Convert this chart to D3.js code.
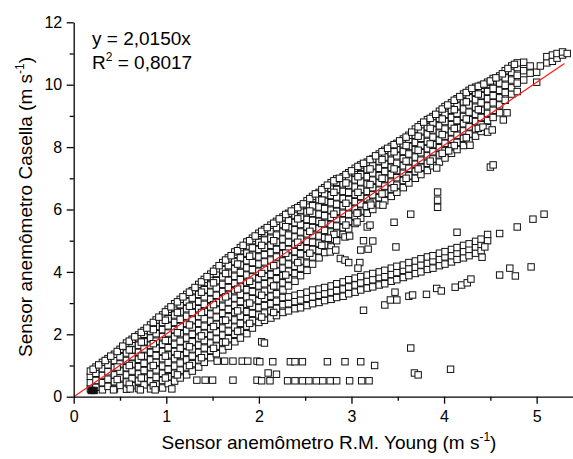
<!DOCTYPE html>
<html><head><meta charset="utf-8">
<script src="https://cdn.jsdelivr.net/npm/d3@7"></script>
<style>
body{margin:0;background:#fff}
svg{display:block}
text{font-family:"Liberation Sans",Arial,Helvetica,sans-serif;fill:#000}
</style></head>
<body><svg id="chart" width="573" height="459"></svg>
<script>
// ---------- data ----------
const xTicks = [0, 1, 2, 3, 4, 5];
const xMinor = [0.5, 1.5, 2.5, 3.5, 4.5];
const yTicks = [0, 2, 4, 6, 8, 10, 12];
const yMinor = [1, 3, 5, 7, 9, 11];
const fitSlope = 2.0150;
const fitRange = [0, 5.3];
const eqLine1 = "y = 2,0150x";
const eqR2 = "0,8017";

// main (upper) cloud: [x, [y values]]
const cloudCols = [
[0.18,[0.25,0.45,0.65,0.82]],
[0.24,[0.3,0.52,0.75,0.95]],
[0.31,[0.22,0.45,0.68,0.9,1.1]],
[0.37,[0.33,0.56,0.8,1.02,1.22]],
[0.44,[0.25,0.48,0.7,0.93,1.16,1.36]],
[0.5,[0.36,0.6,0.82,1.05,1.28,1.52]],
[0.57,[0.24,0.47,0.7,0.93,1.16,1.4,1.62,1.72]],
[0.63,[0.35,0.58,0.82,1.05,1.28,1.5,1.72,1.84]],
[0.7,[0.26,0.5,0.73,0.96,1.2,1.42,1.65,1.88,1.98]],
[0.76,[0.38,0.6,0.84,1.07,1.3,1.53,1.76,2.0,2.12]],
[0.83,[0.25,0.5,0.72,0.95,1.18,1.42,1.65,1.88,2.1,2.3]],
[0.89,[0.4,0.62,0.86,1.1,1.32,1.55,1.78,2.02,2.25,2.46]],
[0.96,[0.28,0.52,0.75,0.98,1.22,1.45,1.68,1.92,2.15,2.38,2.62]],
[1.02,[0.42,0.64,0.88,1.1,1.34,1.57,1.8,2.04,2.27,2.5,2.72,2.8]],
[1.09,[0.5,0.75,0.98,1.22,1.45,1.68,1.92,2.15,2.38,2.62,2.85,2.98]],
[1.15,[0.6,0.85,1.08,1.32,1.55,1.78,2.02,2.25,2.48,2.72,2.95,3.12]],
[1.22,[0.7,0.95,1.18,1.42,1.65,1.88,2.12,2.35,2.58,2.82,3.05,3.28]],
[1.28,[0.82,1.06,1.3,1.53,1.76,2.0,2.23,2.46,2.7,2.93,3.16,3.4]],
[1.35,[0.95,1.18,1.42,1.65,1.88,2.12,2.35,2.58,2.82,3.05,3.28,3.52,3.6]],
[1.41,[1.1,1.33,1.56,1.8,2.03,2.26,2.5,2.73,2.96,3.2,3.43,3.66,3.76]],
[1.48,[1.25,1.48,1.72,1.95,2.18,2.42,2.65,2.88,3.12,3.35,3.58,3.82,3.93]],
[1.54,[1.38,1.62,1.85,2.08,2.32,2.55,2.78,3.02,3.25,3.48,3.72,3.95,4.1]],
[1.61,[1.5,1.74,1.97,2.2,2.44,2.67,2.9,3.14,3.37,3.6,3.84,4.07,4.3]],
[1.67,[1.62,1.86,2.1,2.33,2.56,2.8,3.03,3.26,3.5,3.73,3.96,4.2,4.45]],
[1.74,[1.76,2.0,2.23,2.46,2.7,2.93,3.16,3.4,3.63,3.86,4.1,4.33,4.56,4.64]],
[1.8,[1.88,2.12,2.35,2.58,2.82,3.05,3.28,3.52,3.75,3.98,4.22,4.45,4.68,4.78]],
[1.87,[2.02,2.26,2.5,2.73,2.96,3.2,3.43,3.66,3.9,4.13,4.36,4.6,4.83,4.96]],
[1.93,[2.2,2.44,2.67,2.9,3.14,3.37,3.6,3.84,4.07,4.3,4.54,4.77,5.0,5.08]],
[2.0,[2.38,2.62,2.85,3.08,3.32,3.55,3.78,4.02,4.25,4.48,4.72,4.95,5.18,5.24]],
[2.06,[2.45,2.68,2.92,3.15,3.38,3.62,3.85,4.08,4.32,4.55,4.78,5.02,5.25,5.36]],
[2.13,[2.52,2.75,2.98,3.22,3.45,3.68,3.92,4.15,4.38,4.62,4.85,5.08,5.32,5.5]],
[2.19,[2.6,2.83,3.06,3.3,3.55,3.78,4.02,4.25,4.48,4.72,4.95,5.18,5.42,5.62]],
[2.26,[3.42,3.65,3.88,4.12,4.35,4.58,4.82,5.05,5.28,5.52,5.76]],
[2.32,[3.55,3.78,4.02,4.25,4.48,4.72,4.95,5.18,5.42,5.65,5.88]],
[2.39,[3.7,3.95,4.18,4.42,4.65,4.88,5.12,5.35,5.58,5.82,6.02]],
[2.45,[3.88,4.12,4.35,4.58,4.82,5.05,5.28,5.52,5.75,5.98,6.12]],
[2.52,[4.05,4.28,4.52,4.75,4.98,5.22,5.45,5.68,5.92,6.15,6.28]],
[2.58,[4.25,4.48,4.72,4.95,5.18,5.42,5.65,5.88,6.12,6.35,6.42]],
[2.65,[4.45,4.68,4.92,5.15,5.38,5.62,5.85,6.08,6.32,6.55]],
[2.71,[4.62,4.86,5.1,5.33,5.56,5.8,6.03,6.26,6.5,6.7]],
[2.78,[4.8,5.05,5.28,5.52,5.75,5.98,6.22,6.45,6.68,6.86]],
[2.84,[5.0,5.24,5.47,5.7,5.94,6.17,6.4,6.64,6.87,6.98]],
[2.91,[5.2,5.42,5.65,5.88,6.12,6.35,6.58,6.82,7.05]],
[2.97,[5.38,5.62,5.85,6.08,6.32,6.55,6.78,7.02,7.18]],
[3.04,[5.55,5.78,6.02,6.25,6.48,6.72,6.95,7.18,7.32]],
[3.1,[5.72,5.95,6.18,6.42,6.65,6.88,7.12,7.35,7.43]],
[3.17,[5.88,6.12,6.35,6.58,6.82,7.05,7.28,7.52]],
[3.23,[6.0,6.24,6.47,6.7,6.94,7.17,7.4,7.62]],
[3.3,[6.15,6.38,6.62,6.85,7.08,7.32,7.55,7.78]],
[3.36,[6.28,6.52,6.75,6.98,7.22,7.45,7.68,7.9]],
[3.43,[6.42,6.65,6.88,7.12,7.35,7.58,7.82,8.02]],
[3.49,[6.55,6.78,7.02,7.25,7.48,7.72,7.95,8.12]],
[3.56,[6.7,6.93,7.16,7.4,7.63,7.86,8.1,8.26]],
[3.62,[6.85,7.08,7.32,7.55,7.78,8.02,8.25,8.38]],
[3.69,[7.0,7.22,7.45,7.68,7.92,8.15,8.38,8.58]],
[3.75,[7.12,7.35,7.58,7.82,8.05,8.28,8.52,8.72]],
[3.82,[7.25,7.48,7.72,7.95,8.18,8.42,8.65,8.88]],
[3.88,[7.4,7.62,7.85,8.08,8.32,8.55,8.78,8.98]],
[3.95,[7.52,7.75,7.98,8.22,8.45,8.68,8.92,9.15]],
[4.01,[7.65,7.88,8.12,8.35,8.58,8.82,9.05,9.3]],
[4.08,[7.8,8.02,8.25,8.48,8.72,8.95,9.18,9.42]],
[4.14,[7.92,8.15,8.38,8.62,8.85,9.08,9.32,9.55]],
[4.21,[8.05,8.28,8.52,8.75,8.98,9.22,9.45,9.7]],
[4.27,[8.2,8.42,8.65,8.88,9.12,9.35,9.58,9.82]],
[4.34,[8.35,8.58,8.82,9.05,9.28,9.52,9.75,9.92]],
[4.4,[8.5,8.72,8.95,9.18,9.42,9.65,9.88,9.98]],
[4.47,[8.62,8.85,9.08,9.32,9.55,9.78,10.02,10.08]],
[4.53,[8.95,9.18,9.42,9.65,9.88,10.12,10.2]],
[4.6,[9.1,9.35,9.58,9.82,10.05,10.28]],
[4.66,[9.5,9.75,9.98,10.22,10.45]],
[4.73,[9.7,9.9,10.15,10.4,10.6]],
[4.79,[9.78,10.05,10.3,10.55,10.7]],
[4.86,[10.15,10.45,10.72]],
[4.93,[10.37,10.6]],
[5.0,[10.08,10.4]],
[5.04,[10.6]],
[5.11,[10.7,10.9]],
[5.17,[10.75,10.95]],
[5.22,[10.85,11.0]],
[5.28,[10.95,11.05]],
[5.33,[11.0]]
];

// extra points between the columns of the cloud (overplotting)
const cloudFill = [
[0.47,[0.55,0.95]],[0.6,[0.4,1.0,1.5]],[0.73,[0.6,1.3,1.75]],[0.86,[0.35,1.0,1.7,2.15]],
[0.99,[0.6,1.3,1.8,2.45]],[1.12,[0.7,1.35,2.05,2.7]],[1.25,[1.0,1.6,2.3,2.9]],
[1.38,[1.25,1.95,2.7,3.35]],[1.51,[1.55,2.25,2.95,3.65]],[1.64,[1.75,2.45,3.2,3.95]],
[1.77,[2.1,2.75,3.45,4.25]],[1.9,[2.35,3.0,3.7,4.5]],[2.03,[2.55,3.25,3.95,4.85]],
[2.16,[2.7,3.55,4.2,5.0]],[2.29,[3.0,3.9,4.6,5.45]],[2.42,[3.0,4.3,4.95,5.7]],
[2.55,[3.1,4.6,5.3,5.95]],[2.68,[3.2,4.85,5.55,6.3]],[2.81,[3.3,5.2,5.85,6.55]],
[2.94,[3.5,5.5,6.2,6.85]],[3.07,[3.65,5.9,6.55,7.05]],[3.2,[3.8,6.2,6.8,7.3]],
[3.33,[3.95,6.5,7.0,7.6]],[3.46,[4.0,6.7,7.3,7.85]],[3.59,[4.15,7.0,7.55,8.05]],
[3.72,[4.3,7.3,7.9,8.35]],[3.85,[4.45,7.55,8.1,8.6]],[3.98,[4.5,7.8,8.4,8.9]],
[4.11,[4.65,8.05,8.6,9.2]],[4.24,[4.75,8.3,8.9,9.45]],[4.37,[4.9,8.6,9.2,9.7]]
];

// upper edge of the cloud
const edgePts = [
[0.21,0.88],[0.27,1.02],[0.34,1.16],[0.4,1.3],[0.47,1.45],[0.53,1.62],[0.6,1.78],[0.66,1.92],
[0.73,2.06],[0.79,2.2],[0.86,2.38],[0.92,2.55],[0.99,2.72],[1.05,2.88],[1.12,3.04],[1.18,3.2],
[1.25,3.35],[1.31,3.5],[1.38,3.68],[1.44,3.85],[1.51,4.02],[1.57,4.2],[1.64,4.38],[1.7,4.52],
[1.77,4.68],[1.83,4.85],[1.9,5.0],[1.96,5.15],[2.03,5.3],[2.09,5.42],[2.16,5.56],[2.22,5.7],
[2.29,5.84],[2.35,5.95],[2.42,6.06],[2.48,6.18],[2.55,6.35],[2.61,6.5],[2.68,6.64],[2.74,6.78],
[2.81,6.92],[2.87,7.0],[2.94,7.12],[3.0,7.24],[3.07,7.38],[3.13,7.48],[3.2,7.6],[3.26,7.72],
[3.33,7.85],[3.39,7.96],[3.46,8.08],[3.52,8.2],[3.59,8.32],[3.65,8.48],[3.72,8.65],[3.78,8.8],
[3.85,8.92],[3.91,9.05],[3.98,9.22],[4.04,9.35],[4.11,9.5],[4.17,9.62],[4.24,9.75],[4.3,9.88],
[4.37,9.95],[4.43,10.02],[4.5,10.12],[4.56,10.22],[4.63,10.35],[4.69,10.52],[4.76,10.65]
];

// lower band
const lowerBandCols = [
[2.26,[2.7,2.95,3.18]],[2.32,[2.75,2.98,3.2]],[2.39,[2.82,3.05,3.25]],
[2.45,[2.85,3.1,3.3]],[2.52,[2.92,3.15,3.35]],[2.58,[2.98,3.2,3.42]],
[2.65,[3.02,3.25,3.45]],[2.71,[3.08,3.3,3.5]],[2.78,[3.12,3.35,3.55]],
[2.84,[3.18,3.4,3.62]],[2.91,[3.22,3.45,3.68]],[2.97,[3.3,3.52,3.75]],
[3.04,[3.35,3.58,3.8]],[3.1,[3.42,3.65,3.85]],[3.17,[3.48,3.7,3.9]],
[3.23,[3.52,3.75,3.95]],[3.3,[3.58,3.82,4.0]],[3.36,[3.62,3.85,4.05]],
[3.43,[3.7,3.92,4.12]],[3.49,[3.75,3.98,4.18]],[3.56,[3.82,4.05,4.22]],
[3.62,[3.88,4.1,4.3]],[3.69,[3.95,4.15,4.35]],[3.75,[4.0,4.22,4.42]],
[3.82,[4.08,4.28,4.48]],[3.88,[4.12,4.35,4.52]],[3.95,[4.2,4.4,4.6]],
[4.01,[4.25,4.48,4.65]],[4.08,[4.32,4.52,4.72]],[4.14,[4.4,4.6,4.78]],
[4.21,[4.45,4.65,4.85]],[4.27,[4.52,4.72,4.9]],[4.34,[4.6,4.8,4.98]],
[4.4,[4.68,4.88,5.05]],[4.47,[5.0,5.2]]
];

// quantised rows near the bottom
const rowLow = [[1.33,0.53],[1.42,0.53],[1.5,0.53],[1.72,0.53],[1.98,0.53],[2.03,0.51],[2.12,0.51],
[2.31,0.51],[2.39,0.51],[2.47,0.51],[2.54,0.51],[2.62,0.51],[2.69,0.51],[2.77,0.51],[2.84,0.51],
[2.98,0.51],[3.11,0.51],[3.19,0.51]];
const rowHigh = [[1.55,1.14],[1.63,1.14],[1.72,1.14],[1.82,1.14],[1.88,1.14],[1.98,1.14],[2.01,1.12],
[2.15,1.12],[2.34,1.12],[2.39,1.12],[2.47,1.12],[2.74,1.12],[2.93,1.12],[3.1,1.12],[3.25,1.0]];
const bottomPts = [[0.43,0.22],[0.61,0.25],[0.72,0.22],[0.88,0.22],[1.06,0.25],
[2.1,0.76],[2.19,0.72],[2.03,1.76],[2.06,1.72],[3.64,1.56],[3.68,0.76],[3.72,0.7],[4.07,0.88]];
const stackPts = [[0.19,0.2],[0.22,0.2]];

// scattered points
const scatterPts = [
[3.13,2.77],[3.36,2.94],[3.42,3.1],[3.49,3.1],[3.47,3.35],[3.62,3.22],[3.66,3.26],[3.81,3.28],
[3.92,3.47],[3.97,3.39],[4.12,3.51],[4.19,3.58],[4.25,3.65],[4.29,3.77],[4.6,3.9],[4.71,4.12],
[4.77,3.87],[4.94,4.16],[4.96,5.69],[5.08,5.85],[4.79,5.44],[4.6,5.23],[4.44,4.8],[4.41,4.47],
[4.14,5.27],[3.64,5.85],[3.93,6.3],[3.93,6.07],[3.93,6.56],[3.46,5.59],[3.48,4.8],[3.17,5.44],
[3.2,5.5],[3.13,5.0],[3.23,4.99],[3.1,4.7],[3.18,4.73],[3.09,4.3],[3.07,4.12],[2.88,4.43],
[2.93,4.38],[2.97,4.3],[2.77,4.64],[2.83,4.7],[2.75,5.08],[2.93,5.12],[2.98,5.15],[3.06,5.88],
[3.06,5.6],[3.34,6.14],[3.16,6.1],[3.21,6.14],[4.5,7.36],[4.53,7.43],[3.92,7.33],[4.05,7.88],
[4.28,8.06],[4.42,8.64],[4.47,8.48],[4.52,8.55],[4.64,8.87],[4.68,9.1]
];

// ---------- chart ----------
const svg = d3.select("#chart");
const x = d3.scaleLinear().domain([0, 5.4]).range([73.7, 573.7]);
const y = d3.scaleLinear().domain([0, 12]).range([396.7, 22.3]);

const pts = [];
cloudCols.forEach(([cx, ys]) => ys.forEach(v => pts.push([cx, v])));
cloudFill.forEach(([cx, ys]) => ys.forEach(v => pts.push([cx, v])));
edgePts.forEach(p => pts.push(p));
lowerBandCols.forEach(([cx, ys]) => ys.forEach(v => pts.push([cx, v])));
rowLow.concat(rowHigh, bottomPts, scatterPts).forEach(p => pts.push(p));

const S = 6.4;
const gPts = svg.append("g");
gPts.selectAll("rect.p").data(pts).join("rect").attr("class","p")
  .attr("x", d => x(d[0]) - S/2).attr("y", d => y(d[1]) - S/2)
  .attr("width", S).attr("height", S)
  .attr("fill", "#fff").attr("stroke", "#111").attr("stroke-width", 1);
gPts.selectAll("rect.s").data(stackPts).join("rect").attr("class","s")
  .attr("x", d => x(d[0]) - S/2).attr("y", d => y(d[1]) - S/2)
  .attr("width", S).attr("height", S)
  .attr("fill", "#111").attr("stroke", "#111").attr("stroke-width", 1);

// fit line
svg.append("path")
  .datum(fitRange.map(v => [v, fitSlope * v]))
  .attr("d", d3.line().x(d => x(d[0])).y(d => y(d[1])))
  .attr("stroke", "#ff1a1a").attr("stroke-width", 1.2).attr("fill", "none");

// axes
const fs = 16;
svg.append("g").attr("transform", `translate(0,${y(0)})`)
  .call(d3.axisBottom(x).tickValues(xTicks).tickSize(7).tickSizeOuter(0).tickPadding(7).tickFormat(d3.format("d")));
svg.append("g").attr("transform", `translate(0,${y(0)})`)
  .call(d3.axisBottom(x).tickValues(xMinor).tickSize(4).tickSizeOuter(0).tickFormat(""))
  .select(".domain").remove();
svg.append("g").attr("transform", `translate(${x(0)},0)`)
  .call(d3.axisLeft(y).tickValues(yTicks).tickSize(7).tickSizeOuter(0).tickPadding(4.5).tickFormat(d3.format("d")));
svg.append("g").attr("transform", `translate(${x(0)},0)`)
  .call(d3.axisLeft(y).tickValues(yMinor).tickSize(4).tickSizeOuter(0).tickFormat(""))
  .select(".domain").remove();
svg.selectAll(".domain, .tick line").attr("stroke", "#000").attr("stroke-width", 1.3);
svg.selectAll(".tick text").attr("font-size", fs).attr("font-family", null).attr("fill", "#000");

// axis titles
const tfs = 19;
const xt = svg.append("text").attr("x", 329).attr("y", 449).attr("text-anchor", "middle").attr("font-size", tfs);
xt.append("tspan").text("Sensor anemômetro R.M. Young (m s");
xt.append("tspan").attr("font-size", 12).attr("dy", -8).text("-1");
xt.append("tspan").attr("dy", 8).text(")");

const yt = svg.append("text").attr("transform", "translate(32,207) rotate(-90)").attr("text-anchor", "middle").attr("font-size", tfs);
yt.append("tspan").text("Sensor anemômetro Casella (m s");
yt.append("tspan").attr("font-size", 12).attr("dy", -8).text("-1");
yt.append("tspan").attr("dy", 8).text(")");

// equation
const efs = 19;
svg.append("text").attr("x", 92).attr("y", 45).attr("font-size", efs).text(eqLine1);
const r2 = svg.append("text").attr("x", 92).attr("y", 69).attr("font-size", efs);
r2.append("tspan").text("R");
r2.append("tspan").attr("font-size", 12).attr("dy", -8).text("2");
r2.append("tspan").attr("dy", 8).text(" = " + eqR2);
</script>
</body></html>
